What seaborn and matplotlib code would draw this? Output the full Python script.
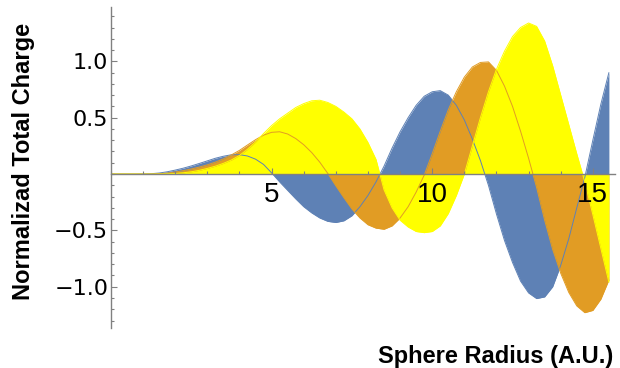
import numpy as np
import pandas as pd
import matplotlib
matplotlib.use("Agg")
import matplotlib.pyplot as plt
import seaborn as sns
from matplotlib.ticker import MultipleLocator, FixedLocator

# sphere radius grid (A.U.)
radius = np.arange(0, 15.51, 0.25)

# normalized total charge
charge_blue = [0, 0, 0, 0, 0.001, 0.003, 0.009, 0.02, 0.035, 0.052, 0.072, 0.094,
               0.117, 0.14, 0.158, 0.171, 0.172, 0.16, 0.132, 0.085, 0.01, -0.07,
               -0.145, -0.22, -0.29, -0.345, -0.39, -0.42, -0.43, -0.415, -0.37, -0.29,
               -0.19, -0.07, 0.07, 0.23, 0.375, 0.5, 0.61, 0.69, 0.73, 0.74,
               0.7, 0.61, 0.48, 0.31, 0.12, -0.1, -0.355, -0.59, -0.785, -0.95,
               -1.055, -1.105, -1.09, -1.0, -0.81, -0.575, -0.3, -0.03, 0.3, 0.62, 0.9]
charge_orange = [0, 0, 0, 0, 0, 0, 0.003, 0.008, 0.018, 0.03, 0.045, 0.062,
                 0.082, 0.106, 0.135, 0.17, 0.21, 0.258, 0.305, 0.345, 0.37, 0.375,
                 0.355, 0.315, 0.26, 0.19, 0.105, 0.005, -0.105, -0.21, -0.31, -0.39,
                 -0.45, -0.48, -0.49, -0.46, -0.39, -0.29, -0.16, -0.01, 0.18, 0.38,
                 0.57, 0.73, 0.86, 0.95, 0.99, 0.995, 0.92, 0.78, 0.6, 0.38,
                 0.14, -0.12, -0.41, -0.67, -0.88, -1.05, -1.17, -1.23, -1.21, -1.11, -0.94]
charge_yellow = [0, 0, 0, 0, 0, 0, 0, 0.002, 0.005, 0.011, 0.02, 0.033,
                 0.05, 0.07, 0.095, 0.125, 0.165, 0.22, 0.285, 0.36, 0.43, 0.49,
                 0.54, 0.59, 0.625, 0.65, 0.655, 0.635, 0.6, 0.55, 0.49, 0.4,
                 0.28, 0.13, -0.14, -0.3, -0.41, -0.47, -0.51, -0.52, -0.51, -0.46,
                 -0.35, -0.19, 0.0, 0.25, 0.5, 0.73, 0.93, 1.09, 1.22, 1.3,
                 1.34, 1.31, 1.18, 0.96, 0.7, 0.44, 0.18, -0.07, -0.36, -0.66, -0.96]

series_names = ["a", "b", "c"]
colors = {"a": "#5E81B5", "b": "#E19C24", "c": "#FFFF00"}

df = pd.DataFrame({
    "radius": np.tile(radius, 3),
    "charge": charge_blue + charge_orange + charge_yellow,
    "series": np.repeat(series_names, len(radius)),
})

sns.set_style("white", {"text.color": "black", "xtick.color": "black",
                        "ytick.color": "black", "axes.labelcolor": "black",
                        "xtick.bottom": True, "ytick.left": True})
plt.rcParams["font.family"] = ["Liberation Sans", "DejaVu Sans"]

fig = plt.figure(figsize=(6.2, 3.68), dpi=100)
ax = fig.add_axes([111 / 620, 40 / 368, 504 / 620, 321 / 368])
ax.set_axisbelow(False)

# filled to axis, drawn in order so the later ones cover the earlier
for i, name in enumerate(series_names):
    sub = df[df["series"] == name]
    ax.fill_between(sub["radius"], 0, sub["charge"], color=colors[name],
                    lw=0, zorder=1 + i * 0.1)

sns.lineplot(data=df, x="radius", y="charge", hue="series", palette=colors,
             linewidth=0.7, legend=False, ax=ax, zorder=1.5, estimator=None, sort=False)

ax.set_xlim(0, 15.69)
ax.set_ylim(-1.366, 1.482)

ax.spines["top"].set_visible(False)
ax.spines["right"].set_visible(False)
ax.spines["bottom"].set_position(("data", 0))
for s in ["left", "bottom"]:
    ax.spines[s].set_color("#808080")
    ax.spines[s].set_linewidth(1.0)
    ax.spines[s].set_zorder(3)

ax.xaxis.set_major_locator(FixedLocator([5, 10, 15]))
ax.xaxis.set_minor_locator(MultipleLocator(1))
ax.set_xticklabels(["5", "10", "15"], fontsize=20)
ax.yaxis.set_major_locator(FixedLocator([-1.0, -0.5, 0.5, 1.0]))
ax.yaxis.set_minor_locator(FixedLocator(np.round(np.arange(-1.3, 1.45, 0.1), 2)))
ax.set_yticklabels(["\u22121.0", "\u22120.5", "0.5", "1.0"], fontsize=16,
                   family="DejaVu Sans")

ax.tick_params(axis="both", which="both", direction="in", color="#808080",
               width=0.8, labelcolor="black", bottom=True, left=True)
ax.tick_params(axis="both", which="major", length=4.5)
ax.tick_params(axis="both", which="minor", length=2.5)
ax.tick_params(axis="x", which="major", pad=6)
ax.tick_params(axis="y", which="major", pad=2)

ax.set_xlabel("")
ax.set_ylabel("")
fig.text(613 / 620, 1 - 357 / 368, "Sphere Radius (A.U.)", ha="right", va="center",
         fontsize=17, fontweight="bold", color="black")
fig.text(24 / 620, 1 - 161 / 368, "Normalizad Total Charge", ha="center", va="center",
         rotation=90, fontsize=17, fontweight="bold", color="black")

fig.savefig("out.png", dpi=100)
